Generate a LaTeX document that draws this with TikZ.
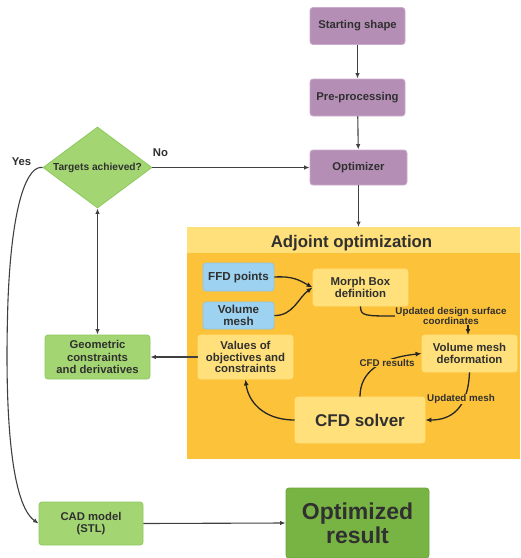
\documentclass[tikz,border=0pt]{standalone}
\usepackage{fontspec}
\setmainfont{Liberation Sans}
\usetikzlibrary{shapes.geometric,arrows.meta}
\definecolor{txt}{HTML}{303030}
\definecolor{purp}{HTML}{B48EB5}
\definecolor{purpb}{HTML}{CBABCC}
\definecolor{lgreen}{HTML}{A3D672}
\definecolor{lgreenb}{HTML}{8FC95E}
\definecolor{dgreen}{HTML}{78B444}
\definecolor{dgreenb}{HTML}{6CA53A}
\definecolor{lblue}{HTML}{9DD2F1}
\definecolor{lblueb}{HTML}{8CC6E8}
\definecolor{lyel}{HTML}{FFE07A}
\definecolor{orng}{HTML}{FCC23A}
\definecolor{arr}{HTML}{404040}
\definecolor{darr}{HTML}{262626}
\tikzset{
  boxbase/.style={rectangle, rounded corners=3pt, draw, line width=0.8pt, align=center, inner sep=1pt, text=txt, font=\bfseries\fontsize{11.3}{12.5}\selectfont},
  purpbox/.style={boxbase, fill=purp, draw=purpb},
  greenbox/.style={boxbase, fill=lgreen, draw=lgreenb},
  bluebox/.style={boxbase, fill=lblue, draw=lblueb, font=\bfseries\fontsize{11.6}{11.8}\selectfont},
  yelbox/.style={boxbase, fill=lyel, draw=lyel, font=\bfseries\fontsize{11.4}{11.8}\selectfont},
  conn/.style={draw=arr, line width=1.1pt, -{Latex[length=5.5pt,width=4.5pt]}},
  iconn/.style={draw=darr, line width=1.3pt, -{Latex[length=6pt,width=5pt]}},
  elabel/.style={text=txt, font=\bfseries\fontsize{9.8}{10.2}\selectfont, align=center, inner sep=0.5pt},
}
\begin{document}
\begin{tikzpicture}[x=1pt,y=-1pt]
\useasboundingbox (0,0) rectangle (521,558);
% adjoint panel
\fill[orng] (187,227) rectangle (520,459);
\fill[lyel] (187,227) rectangle (520,253);
\node[text=txt, font=\bfseries\fontsize{16.8}{18}\selectfont] (adjt) at (351.5,243) {Adjoint optimization};
\coordinate (adjtop) at (358.5,227);

% top flow
\node[purpbox, minimum width=95pt, minimum height=37pt] (start) at (357.5,26) {Starting shape};
\node[purpbox, minimum width=95pt, minimum height=37pt] (pre) at (357.5,97.5) {Pre-processing};
\node[purpbox, minimum width=97pt, minimum height=35pt] (opt) at (358.5,167.5) {Optimizer};
\node[diamond, fill=lgreen, draw=lgreenb, line width=0.8pt, shape aspect=1.35, minimum width=109pt, minimum height=81pt, inner sep=0pt, text=txt, font=\bfseries\fontsize{10.2}{11}\selectfont] (dia) at (97.5,167.5) {Targets achieved?};
\node[greenbox, minimum width=105pt, minimum height=44pt] (geo) at (97.5,357) {Geometric\\constraints\\and derivatives};
\node[greenbox, minimum width=104pt, minimum height=43pt, font=\bfseries\fontsize{11.3}{12.5}\selectfont] (cad) at (91,523.5) {CAD model\\(STL)};
\node[boxbase, fill=dgreen, draw=dgreenb, minimum width=143pt, minimum height=70pt, font=\bfseries\fontsize{23}{24}\selectfont] (res) at (357.5,523) {Optimized\\result};

% inner nodes
\node[bluebox, minimum width=71pt, minimum height=28pt] (ffd) at (238.5,277) {FFD points};
\node[bluebox, minimum width=71pt, minimum height=27pt] (vm) at (238.5,315.5) {Volume\\mesh};
\node[yelbox, minimum width=95pt, minimum height=37pt] (morph) at (360.5,287.5) {Morph Box\\definition};
\node[yelbox, minimum width=95pt, minimum height=44pt] (val) at (245.5,357) {Values of\\objectives and\\constraints};
\node[yelbox, minimum width=95pt, minimum height=37pt] (vdef) at (469.5,353.5) {Volume mesh\\deformation};
\node[yelbox, minimum width=130pt, minimum height=46pt, font=\bfseries\fontsize{17}{18}\selectfont] (cfd) at (360,420) {CFD solver};

% labels
\node[text=txt, font=\bfseries\fontsize{11.3}{12}\selectfont] (yes) at (21.5,162) {Yes};
\node[text=txt, font=\bfseries\fontsize{11.3}{12}\selectfont] (no) at (160.5,153) {No};

% connectors top
\draw[conn] (start) -- (pre);
\draw[conn] (pre) -- (opt);
\draw[conn] (dia.east) -- (opt.west);
\draw[conn] (opt.south) -- (adjtop);
\draw[conn, {Latex[length=5.5pt,width=4.5pt]}-{Latex[length=5.5pt,width=4.5pt]}] (dia.south) -- (geo.north);
\draw[conn] (val.west) -- (geo.east);
\draw[conn] (dia.west) .. controls (28,165) and (12,200) .. (8,300) .. controls (4,420) and (12,505) .. (cad.west);
\draw[conn] (cad.east) -- (res.west);

% inner connectors
\draw[iconn] (ffd.east) .. controls (293,276) and (299,280) .. (morph.west);
\draw[iconn] (vm.east) .. controls (293,316) and (299,297) .. (morph.west);
\node[elabel] (l1) at (451,316) {Updated design surface\\coordinates};
\draw[darr, line width=1.3pt] (morph.south) .. controls (360.5,316) and (365,316) .. (l1.west);
\draw[iconn] (l1.south -| 468,0) -- (468,335);
\draw[iconn] (vdef.south) .. controls (468,410) and (450,420) .. (cfd.east);
\node[elabel, fill=orng] (l3) at (461,399) {Updated mesh};
\draw[iconn] (cfd.north) .. controls (360,372) and (380,358) .. (vdef.west);
\node[elabel, fill=orng] (l2) at (387,363) {CFD results};
\draw[iconn] (cfd.west) .. controls (262,420) and (248,400) .. (val.south);
\end{tikzpicture}
\end{document}
